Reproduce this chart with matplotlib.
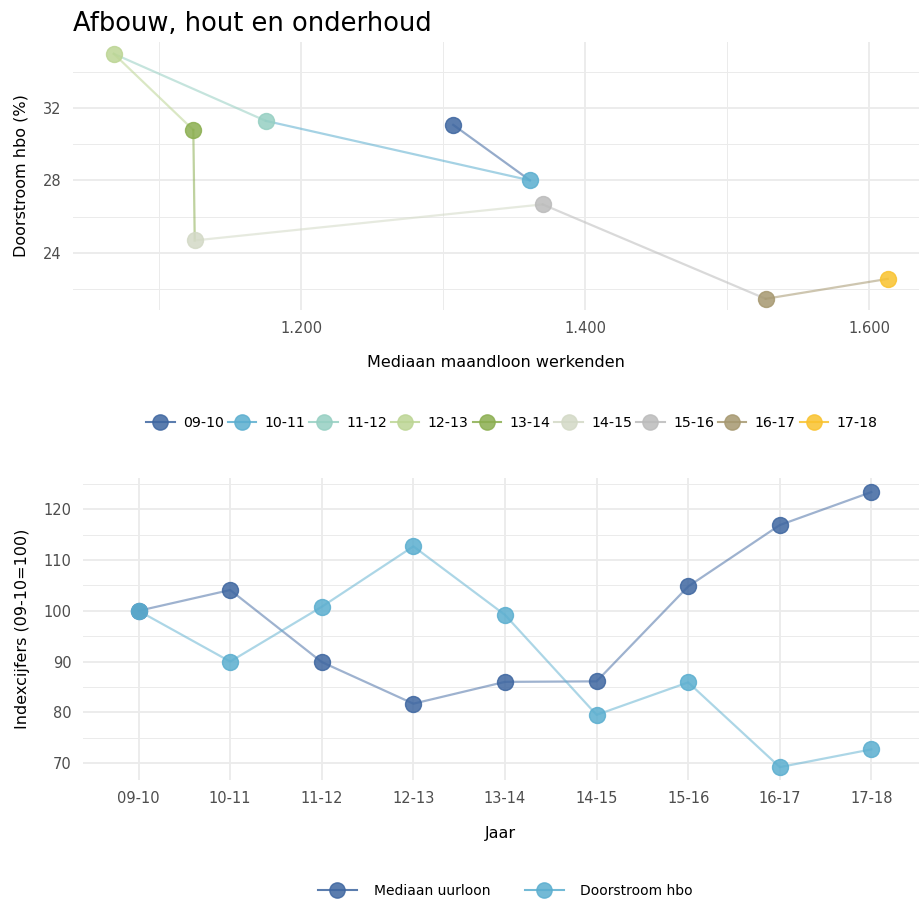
import matplotlib.pyplot as plt
from matplotlib.ticker import FixedLocator, FuncFormatter
from matplotlib.lines import Line2D

# data
jaren = ['09-10', '10-11', '11-12', '12-13', '13-14', '14-15', '15-16', '16-17', '17-18']
maandloon = [1307, 1361, 1175, 1068, 1124, 1125, 1370, 1527, 1613]
doorstroom = [31.06, 28.0, 31.28, 34.98, 30.78, 24.68, 26.67, 21.46, 22.56]
idx_uurloon = [100, 104.1, 89.9, 81.7, 86.0, 86.1, 104.8, 116.9, 123.4]
idx_doorstroom = [100, 90.0, 100.8, 112.7, 99.2, 79.5, 85.9, 69.2, 72.7]
jaar_kleuren = ['#3E66A0', '#5BAECF', '#96CFC2', '#BCD594', '#8BAE50',
                '#D3D9C6', '#BBBBBB', '#A69870', '#F9C22E']
reeks_namen = ['Mediaan uurloon', 'Doorstroom hbo']
reeks_kleuren = ['#3E66A0', '#5BAECF']

plt.rcParams['font.family'] = ['DejaVu Sans']
tick_kleur = '#4D4D4D'
grid_kleur = '#EBEBEB'

fig = plt.figure(figsize=(9.19, 9.06), dpi=100)

# ---- top: path chart
ax1 = fig.add_axes([0.079, 0.658, 0.921, 0.296])
for i in range(len(jaren) - 1):
    ax1.plot(maandloon[i:i + 2], doorstroom[i:i + 2], color=jaar_kleuren[i],
             lw=1.6, alpha=0.55, zorder=2)
for i, j in enumerate(jaren):
    ax1.plot(maandloon[i], doorstroom[i], 'o', ms=11.5, color=jaar_kleuren[i],
             mec=jaar_kleuren[i], alpha=0.85, zorder=3)
ax1.set_xlim(1039, 1635)
ax1.set_ylim(20.85, 35.65)
ax1.xaxis.set_major_locator(FixedLocator([1200, 1400, 1600]))
ax1.xaxis.set_minor_locator(FixedLocator([1100, 1300, 1500]))
ax1.yaxis.set_major_locator(FixedLocator([24, 28, 32]))
ax1.yaxis.set_minor_locator(FixedLocator([22, 26, 30, 34]))
ax1.xaxis.set_major_formatter(FuncFormatter(lambda v, p: f'{int(v):,}'.replace(',', '.')))
ax1.set_xlabel('Mediaan maandloon werkenden', fontsize=11.5, labelpad=14)
ax1.set_ylabel('Doorstroom hbo (%)', fontsize=11.5, labelpad=10)
ax1.set_title('Afbouw, hout en onderhoud', loc='left', fontsize=18.5, pad=8)

hnd = [Line2D([], [], color=c, marker='o', ms=11, alpha=0.85, lw=1.5) for c in jaar_kleuren]
fig.legend(hnd, jaren, loc='center', bbox_to_anchor=(0.557, 0.533), ncol=9,
           frameon=False, fontsize=10.2, handlelength=2.0, handletextpad=0.6,
           columnspacing=0.28)

# ---- bottom: index chart
ax2 = fig.add_axes([0.090, 0.139, 0.910, 0.333])
xs = list(range(len(jaren)))
for naam, vals, kleur in zip(reeks_namen, [idx_uurloon, idx_doorstroom], reeks_kleuren):
    ax2.plot(xs, vals, color=kleur, lw=1.6, alpha=0.5, zorder=2)
    ax2.plot(xs, vals, 'o', ms=11.5, color=kleur, alpha=0.85, zorder=3)
ax2.set_xlim(-0.61, 8.52)
ax2.set_ylim(66.65, 126.1)
ax2.set_xticks(xs)
ax2.set_xticklabels(jaren)
ax2.yaxis.set_major_locator(FixedLocator([70, 80, 90, 100, 110, 120]))
ax2.yaxis.set_minor_locator(FixedLocator([75, 85, 95, 105, 115, 125]))
ax2.set_xlabel('Jaar', fontsize=11.5, labelpad=14)
ax2.set_ylabel('Indexcijfers (09-10=100)', fontsize=11.5, labelpad=10)

hnd2 = [Line2D([], [], color=c, marker='o', ms=11, alpha=0.85, lw=1.5) for c in reeks_kleuren]
fig.legend(hnd2, reeks_namen, loc='center', bbox_to_anchor=(0.55, 0.017), ncol=2,
           frameon=False, fontsize=10, handlelength=2.8, handletextpad=1.2,
           columnspacing=2.5)

for ax in (ax1, ax2):
    for s in ax.spines.values():
        s.set_visible(False)
    ax.tick_params(which='both', length=0, labelsize=10.5, labelcolor=tick_kleur, pad=8)
    ax.grid(which='major', color=grid_kleur, lw=1.3, zorder=0)
    ax.grid(which='minor', color=grid_kleur, lw=0.7, zorder=0)
    ax.set_axisbelow(True)
ax2.xaxis.grid(which='minor', visible=False)

fig.savefig('out.png', dpi=100)
